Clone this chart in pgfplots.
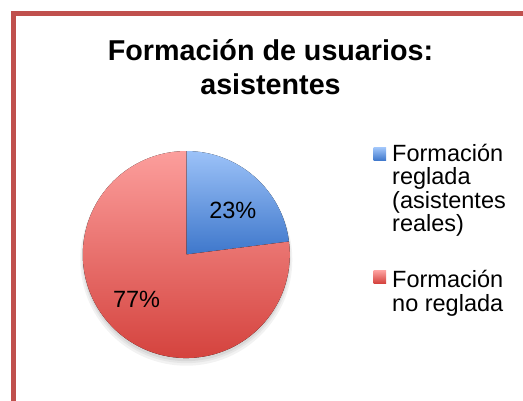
\documentclass[border=0pt]{standalone}
\usepackage{pgfplots}
\pgfplotsset{compat=1.18}
\usepackage{pgfplotstable}
\usepackage{fontspec}
\setmainfont{Liberation Sans}
\definecolor{frame}{HTML}{C0504D}
\definecolor{bluetop}{HTML}{9CC2F8}
\definecolor{bluebot}{HTML}{3E77CB}
\definecolor{redtop}{HTML}{FC9E9C}
\definecolor{redbot}{HTML}{D3403B}

\pgfplotstableread{
label value
reglada 23
noreglada 77
}\piedata
\pgfplotstablegetelem{0}{value}\of\piedata
\pgfmathtruncatemacro{\va}{\pgfplotsretval}
\pgfplotstablegetelem{1}{value}\of\piedata
\pgfmathtruncatemacro{\vb}{\pgfplotsretval}
% slices start at 12 o'clock and run clockwise
\pgfmathsetmacro{\angA}{90-3.6*\va}
\pgfmathsetmacro{\angB}{\angA-3.6*\vb}
\def\rad{103.5pt}

\begin{document}
\begin{tikzpicture}[x=1pt,y=1pt]
% chart frame (cut off at right and bottom)
\draw[frame, line width=5pt, line join=miter] (13,-5) -- (13,387.2) -- (530,387.2);

% title
\node[font=\bfseries\fontsize{28.7}{33}\selectfont, anchor=base] at (270.5,340) {Formación de usuarios:};
\node[font=\bfseries\fontsize{28.7}{33}\selectfont, anchor=base] at (270.5,306) {asistentes};

\begin{axis}[
    at={(180,141.5)}, anchor=origin,
    hide axis, clip=false,
    x=\rad, y=\rad,
    xmin=-1, xmax=1, ymin=-1, ymax=1,
]
    % soft shadow
    \fill[black, opacity=0.05] (axis cs:0,-0.05) circle[radius=106pt];
    \fill[black, opacity=0.05] (axis cs:0,-0.04) circle[radius=104.5pt];
    \fill[black, opacity=0.06] (axis cs:0,-0.03) circle[radius=103.5pt];
    % slices
    \fill[top color=bluetop, bottom color=bluebot]
        (axis cs:0,0) -- ++(90:\rad) arc[start angle=90, end angle=\angA, radius=\rad] -- cycle;
    \fill[top color=redtop, bottom color=redbot]
        (axis cs:0,0) -- ++(\angA:\rad) arc[start angle=\angA, end angle=\angB, radius=\rad] -- cycle;
    % data labels
    \node[font=\fontsize{23.5}{27}\selectfont] at (axis cs:0.45,0.43) {\va\%};
    \node[font=\fontsize{23.5}{27}\selectfont] at (axis cs:-0.48,-0.43) {\vb\%};
\end{axis}

% legend
\fill[top color=bluetop, bottom color=bluebot] (373.5,240.5) rectangle (386,253);
\fill[top color=redtop, bottom color=redbot] (373.5,117.5) rectangle (386,130);
\begin{scope}[every node/.style={anchor=base west, inner sep=0pt, font=\fontsize{23.5}{27}\selectfont}]
\node at (392,239.3) {Formación};
\node at (392,216.0) {reglada};
\node at (392,192.7) {(asistentes};
\node at (392,169.4) {reales)};
\node at (392,113.0) {Formación};
\node at (392,89.5) {no reglada};
\end{scope}
\pgfresetboundingbox
\useasboundingbox (0,0) rectangle (523,401);
\end{tikzpicture}
\end{document}
